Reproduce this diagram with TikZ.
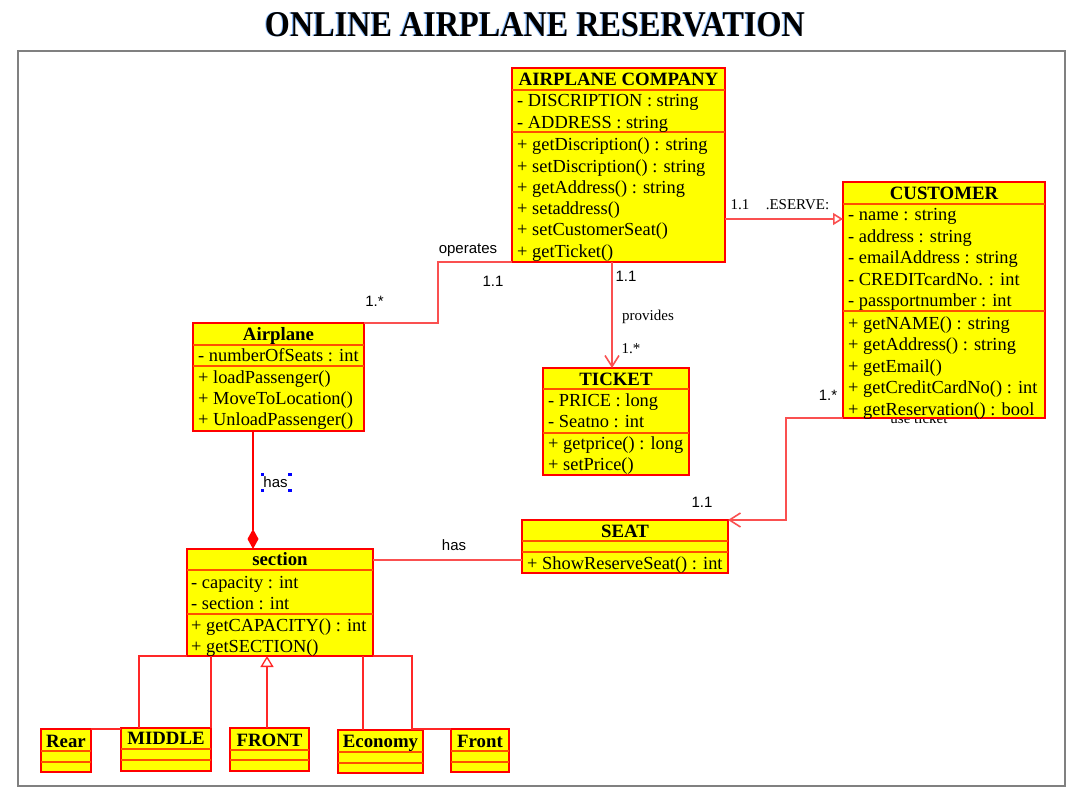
\documentclass[tikz,border=0pt]{standalone}
\usepackage{fontspec}
\setmainfont{Liberation Serif}
\setsansfont{Liberation Sans}
\usetikzlibrary{arrows.meta}
\definecolor{boxyellow}{RGB}{255,255,0}
\definecolor{boxred}{RGB}{255,0,0}
\definecolor{sepred}{RGB}{255,80,0}
\definecolor{linkred}{RGB}{250,80,80}
\definecolor{genred}{RGB}{255,40,40}
\definecolor{framegray}{RGB}{128,128,128}
\definecolor{shadowblue}{RGB}{140,190,255}
\definecolor{handleblue}{RGB}{0,0,255}
\tikzset{
  classbox/.style={draw=boxred, fill=boxyellow, line width=1.2pt, inner sep=0pt, outer sep=0pt, anchor=north west},
  sepline/.style={draw=sepred, line width=1.2pt},
  ctitle/.style={font=\fontsize{18.8}{21.4}\selectfont\bfseries, anchor=base, inner sep=0pt},
  crow/.style={font=\fontsize{18.4}{21.4}\selectfont, anchor=base west, inner sep=0pt},
  slabel/.style={font=\sffamily\fontsize{15}{18}\selectfont, anchor=base, inner sep=0pt},
  rlabel/.style={font=\fontsize{15}{18}\selectfont, anchor=base, inner sep=0pt},
  assoc/.style={draw=linkred, line width=1.6pt},
  genl/.style={draw=genred, line width=1.3pt},
  barbtip/.style={-{Straight Barb[length=11pt,width=14pt]}},
  opentri/.style={-{Triangle[open,length=11pt,width=13pt,fill=white]}},
}
% name, left, top, right, bottom, sep1, sep2
\newcommand\classbox[7]{%
  \node[classbox, minimum width={#4-#2}, minimum height={#5-#3}] (#1) at (#2,#3) {};
  \draw[sepline] (#2,#6) -- (#4,#6);
  \draw[sepline] (#2,#7) -- (#4,#7);
}
% prefix, x, first baseline, pitch, list
\newcommand\rowlist[5]{%
  \foreach \rowtxt [count=\rowidx] in {#5} {%
    \node[crow] (#1\rowidx) at ({#2},{#3+(\rowidx-1)*#4}) {\rowtxt};
  }%
}
\begin{document}
\begin{tikzpicture}[x=1pt,y=-1pt]
\fill[white] (0,0) rectangle (1077,797);
\useasboundingbox (0,0) rectangle (1077,797);

% title
\node[anchor=base, inner sep=0pt] (title) at (535,37) {\resizebox{540pt}{24pt}{\bfseries\makebox[0pt][l]{\color{shadowblue}\kern-0.35pt ONLINE AIRPLANE RESERVATION}ONLINE AIRPLANE RESERVATION}};

% frame
\draw[framegray, line width=2pt] (18,51) rectangle (1065,786);

% AIRPLANE COMPANY
\classbox{company}{512}{68}{725}{262}{90}{132}
\node[ctitle] (companyT) at (618.5,86) {AIRPLANE COMPANY};
\rowlist{companyA}{517}{106.7}{21.6}{- DISCRIPTION : string, - ADDRESS : string}
\rowlist{companyM}{517}{150.7}{21.3}{+ getDiscription() : string, + setDiscription() : string, + getAddress() : string, + setaddress(), + setCustomerSeat(), + getTicket()}

% label partly hidden by CUSTOMER
\node[rlabel] (lut) at (919,423) {use ticket};

% CUSTOMER
\classbox{customer}{843}{182}{1045}{418}{204}{311}
\node[ctitle] (customerT) at (944,200) {CUSTOMER};
\rowlist{customerA}{848}{220.7}{21.5}{- name : string, - address : string, - emailAddress : string, - CREDITcardNo. : int, - passportnumber : int}
\rowlist{customerM}{848}{329}{21.5}{+ getNAME() : string, + getAddress() : string, + getEmail(), + getCreditCardNo() : int, + getReservation() : bool}

% Airplane
\classbox{airplane}{193}{323}{364}{431}{345}{366}
\node[ctitle] (airplaneT) at (278.5,340) {Airplane};
\rowlist{airplaneA}{198}{361.7}{21.3}{- numberOfSeats : int}
\rowlist{airplaneM}{198}{383.3}{21.3}{+ loadPassenger(), + MoveToLocation(), + UnloadPassenger()}

% TICKET
\classbox{ticket}{543}{368}{689}{475}{389}{433}
\node[ctitle] (ticketT) at (616,385) {TICKET};
\rowlist{ticketA}{548}{406}{21.3}{- PRICE : long, - Seatno : int}
\rowlist{ticketM}{548}{449.3}{21.3}{+ getprice() : long, + setPrice()}

% SEAT
\classbox{seat}{522}{520}{728}{573}{541}{552}
\node[ctitle] (seatT) at (625,537) {SEAT};
\rowlist{seatM}{527}{569}{21.3}{+ ShowReserveSeat() : int}

% section
\classbox{section}{187}{549}{373}{656}{570}{614}
\node[ctitle] (sectionT) at (280,565) {section};
\rowlist{sectionA}{191}{588}{21.3}{- capacity : int, - section : int}
\rowlist{sectionM}{191}{631}{21.5}{+ getCAPACITY() : int, + getSECTION()}

% sub classes
\classbox{rear}{41}{729}{91}{772}{751}{762}
\node[ctitle] (rearT) at (66,747) {Rear};
\classbox{middle}{121}{728}{211}{771}{749}{760}
\node[ctitle] (middleT) at (166,744) {MIDDLE};
\classbox{frontc}{230}{728}{309}{771}{750}{760}
\node[ctitle] (frontcT) at (269.5,746) {FRONT};
\classbox{economy}{338}{730}{423}{773}{752}{763}
\node[ctitle] (economyT) at (380.5,747) {Economy};
\classbox{frontb}{451}{729}{509}{772}{751}{762}
\node[ctitle] (frontbT) at (480,747) {Front};

% helper coordinates
\coordinate (xprov) at (612,0);
\coordinate (yres) at (0,219);
\coordinate (xcomp) at (253,0);
\coordinate (yhas) at (0,560);
\coordinate (xmid) at (139,0);
\coordinate (xfront) at (267,0);
\coordinate (xeco) at (363,0);
\coordinate (xfb) at (412,0);

% connectors
\draw[assoc] (company.south west) -- ++(-74,0) |- (airplane.north east);
\draw[assoc, barbtip] (company.south -| xprov) -- (ticket.north -| xprov);
\draw[assoc, -{Triangle[open,length=10pt,width=12pt,fill=white]}] (company.east |- yres) -- (customer.west |- yres);
\draw[assoc, barbtip] (customer.south west) -- ++(-57,0) |- (seat.north east);
\draw[draw=boxred, line width=1.3pt, {Diamond[length=20pt,width=11pt,fill=boxred]}-] (section.north -| xcomp) -- (airplane.south -| xcomp);
\draw[assoc] (section.east |- yhas) -- (seat.west |- yhas);

% generalisation
\draw[genl] (middle.north -| xmid) |- (section.south west);
\draw[genl] (middle.north east) -- (middle.north east |- section.south);
\draw[genl] (rear.north east) -- (rear.north east -| middle.west);
\draw[genl, opentri] (frontc.north -| xfront) -- (section.south -| xfront);
\draw[genl] (economy.north -| xeco) -- (section.south -| xeco);
\draw[genl] (frontb.north west) -- (frontb.north west -| xfb) |- (section.south east);

% labels
\node[slabel] (lop) at (468,253.3) {operates};
\node[slabel] (lop1) at (493,286) {1.1};
\node[slabel] (lop2) at (374.5,306) {1.*};
\node[slabel] (lpr1) at (626,281) {1.1};
\node[rlabel] (lpr) at (648,320) {provides};
\node[rlabel] (lpr2) at (631,353) {1.*};
\node[rlabel] (lre1) at (740,210) {1.1};
\node[rlabel] (lre) at (797.5,209) {.ESERVE:};
\node[slabel] (lut1) at (828,400.7) {1.*};
\node[slabel] (lut2) at (702,507.7) {1.1};
\node[slabel] (lh1) at (454,550.7) {has};
\node[slabel] (lh2) at (275.5,487) {has};

% selection handles round the "has" label
\fill[handleblue] (260.5,472.5) rectangle ++(3.5,3.5);
\fill[handleblue] (288,472.5) rectangle ++(3.5,3.5);
\fill[handleblue] (260.5,488.5) rectangle ++(3.5,3.5);
\fill[handleblue] (288,488.5) rectangle ++(3.5,3.5);
\end{tikzpicture}
\end{document}
